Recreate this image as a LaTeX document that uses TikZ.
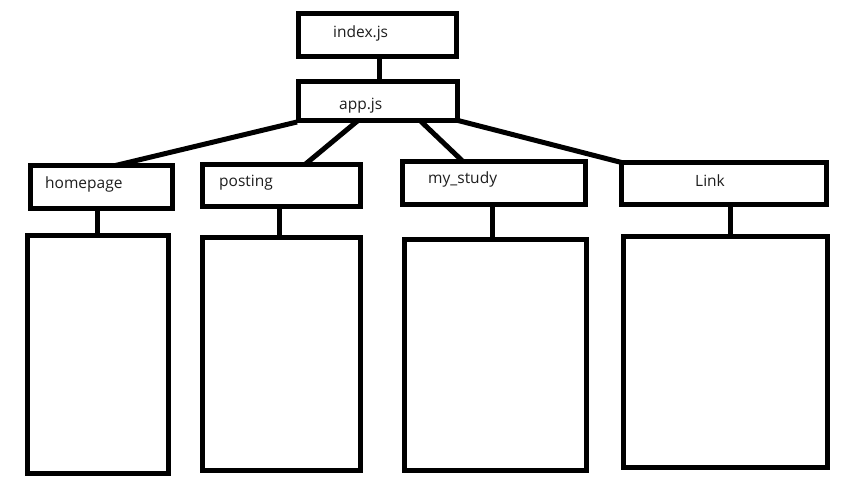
\documentclass[tikz,border=0pt]{standalone}
\usepackage{fontspec}
\setmainfont{Open Sans}
\usetikzlibrary{calc}
\definecolor{txt}{HTML}{1E1E1E}
\tikzset{
  box/.style={draw=black, line width=5pt, rectangle, inner sep=0pt, outer sep=0pt, fill=white},
  lbl/.style={anchor=base west, inner sep=0pt, text=txt, font=\fontsize{15.5}{18}\selectfont},
  conn/.style={draw=black, line width=5pt}
}
\begin{document}
\begin{tikzpicture}[x=1pt,y=-1pt]
\useasboundingbox[fill=white] (0,0) rectangle (851,489);
% boxes
\node[box, minimum width=158pt, minimum height=43.5pt] (idx) at (377.5,35.25) {};
\node[box, minimum width=159pt, minimum height=39pt] (app) at (378,101) {};
\node[box, minimum width=142pt, minimum height=43pt] (hp) at (101.5,187) {};
\node[box, minimum width=158pt, minimum height=42pt] (po) at (281.5,185.5) {};
\node[box, minimum width=183pt, minimum height=43pt] (ms) at (494,183) {};
\node[box, minimum width=205pt, minimum height=42pt] (lk) at (724,183.5) {};
\node[box, minimum width=141pt, minimum height=238pt] (b1) at (98,354.5) {};
\node[box, minimum width=158pt, minimum height=233pt] (b2) at (281.5,354) {};
\node[box, minimum width=182pt, minimum height=231pt] (b3) at (495.5,355) {};
\node[box, minimum width=204pt, minimum height=231pt] (b4) at (725.5,352) {};
% labels
\node[lbl] (tidx) at (333,38) {index.js};
\node[lbl] (tapp) at (339,110) {app.js};
\node[lbl] (thp) at (45,189) {homepage};
\node[lbl] (tpo) at (219,187) {posting};
\node[lbl] (tms) at (428,184) {my\_study};
\node[lbl] (tlk) at (695,186) {Link};
% connectors
\draw[conn] ([xshift=1.5pt]idx.south) -- ([xshift=1pt]app.north);
\draw[conn] ($(app.south west)+(-1.5,1.5)$) -- ($(hp.north west)+(85,0)$);
\draw[conn] ($(app.south west)+(59.5,0)$) -- ($(po.north west)+(102.5,0)$);
\draw[conn] ($(app.south west)+(121.5,0)$) -- ($(ms.north west)+(60.5,0)$);
\draw[conn] ($(app.south east)+(0.5,0)$) -- (lk.north west);
\draw[conn] ([xshift=-4.5pt]hp.south) -- ([xshift=-1pt]b1.north);
\draw[conn] ([xshift=-2.5pt]po.south) -- ([xshift=-2.5pt]b2.north);
\draw[conn] ([xshift=-2pt]ms.south) -- ([xshift=-3.5pt]b3.north);
\draw[conn] ([xshift=6pt]lk.south) -- ([xshift=4.5pt]b4.north);
\end{tikzpicture}
\end{document}
